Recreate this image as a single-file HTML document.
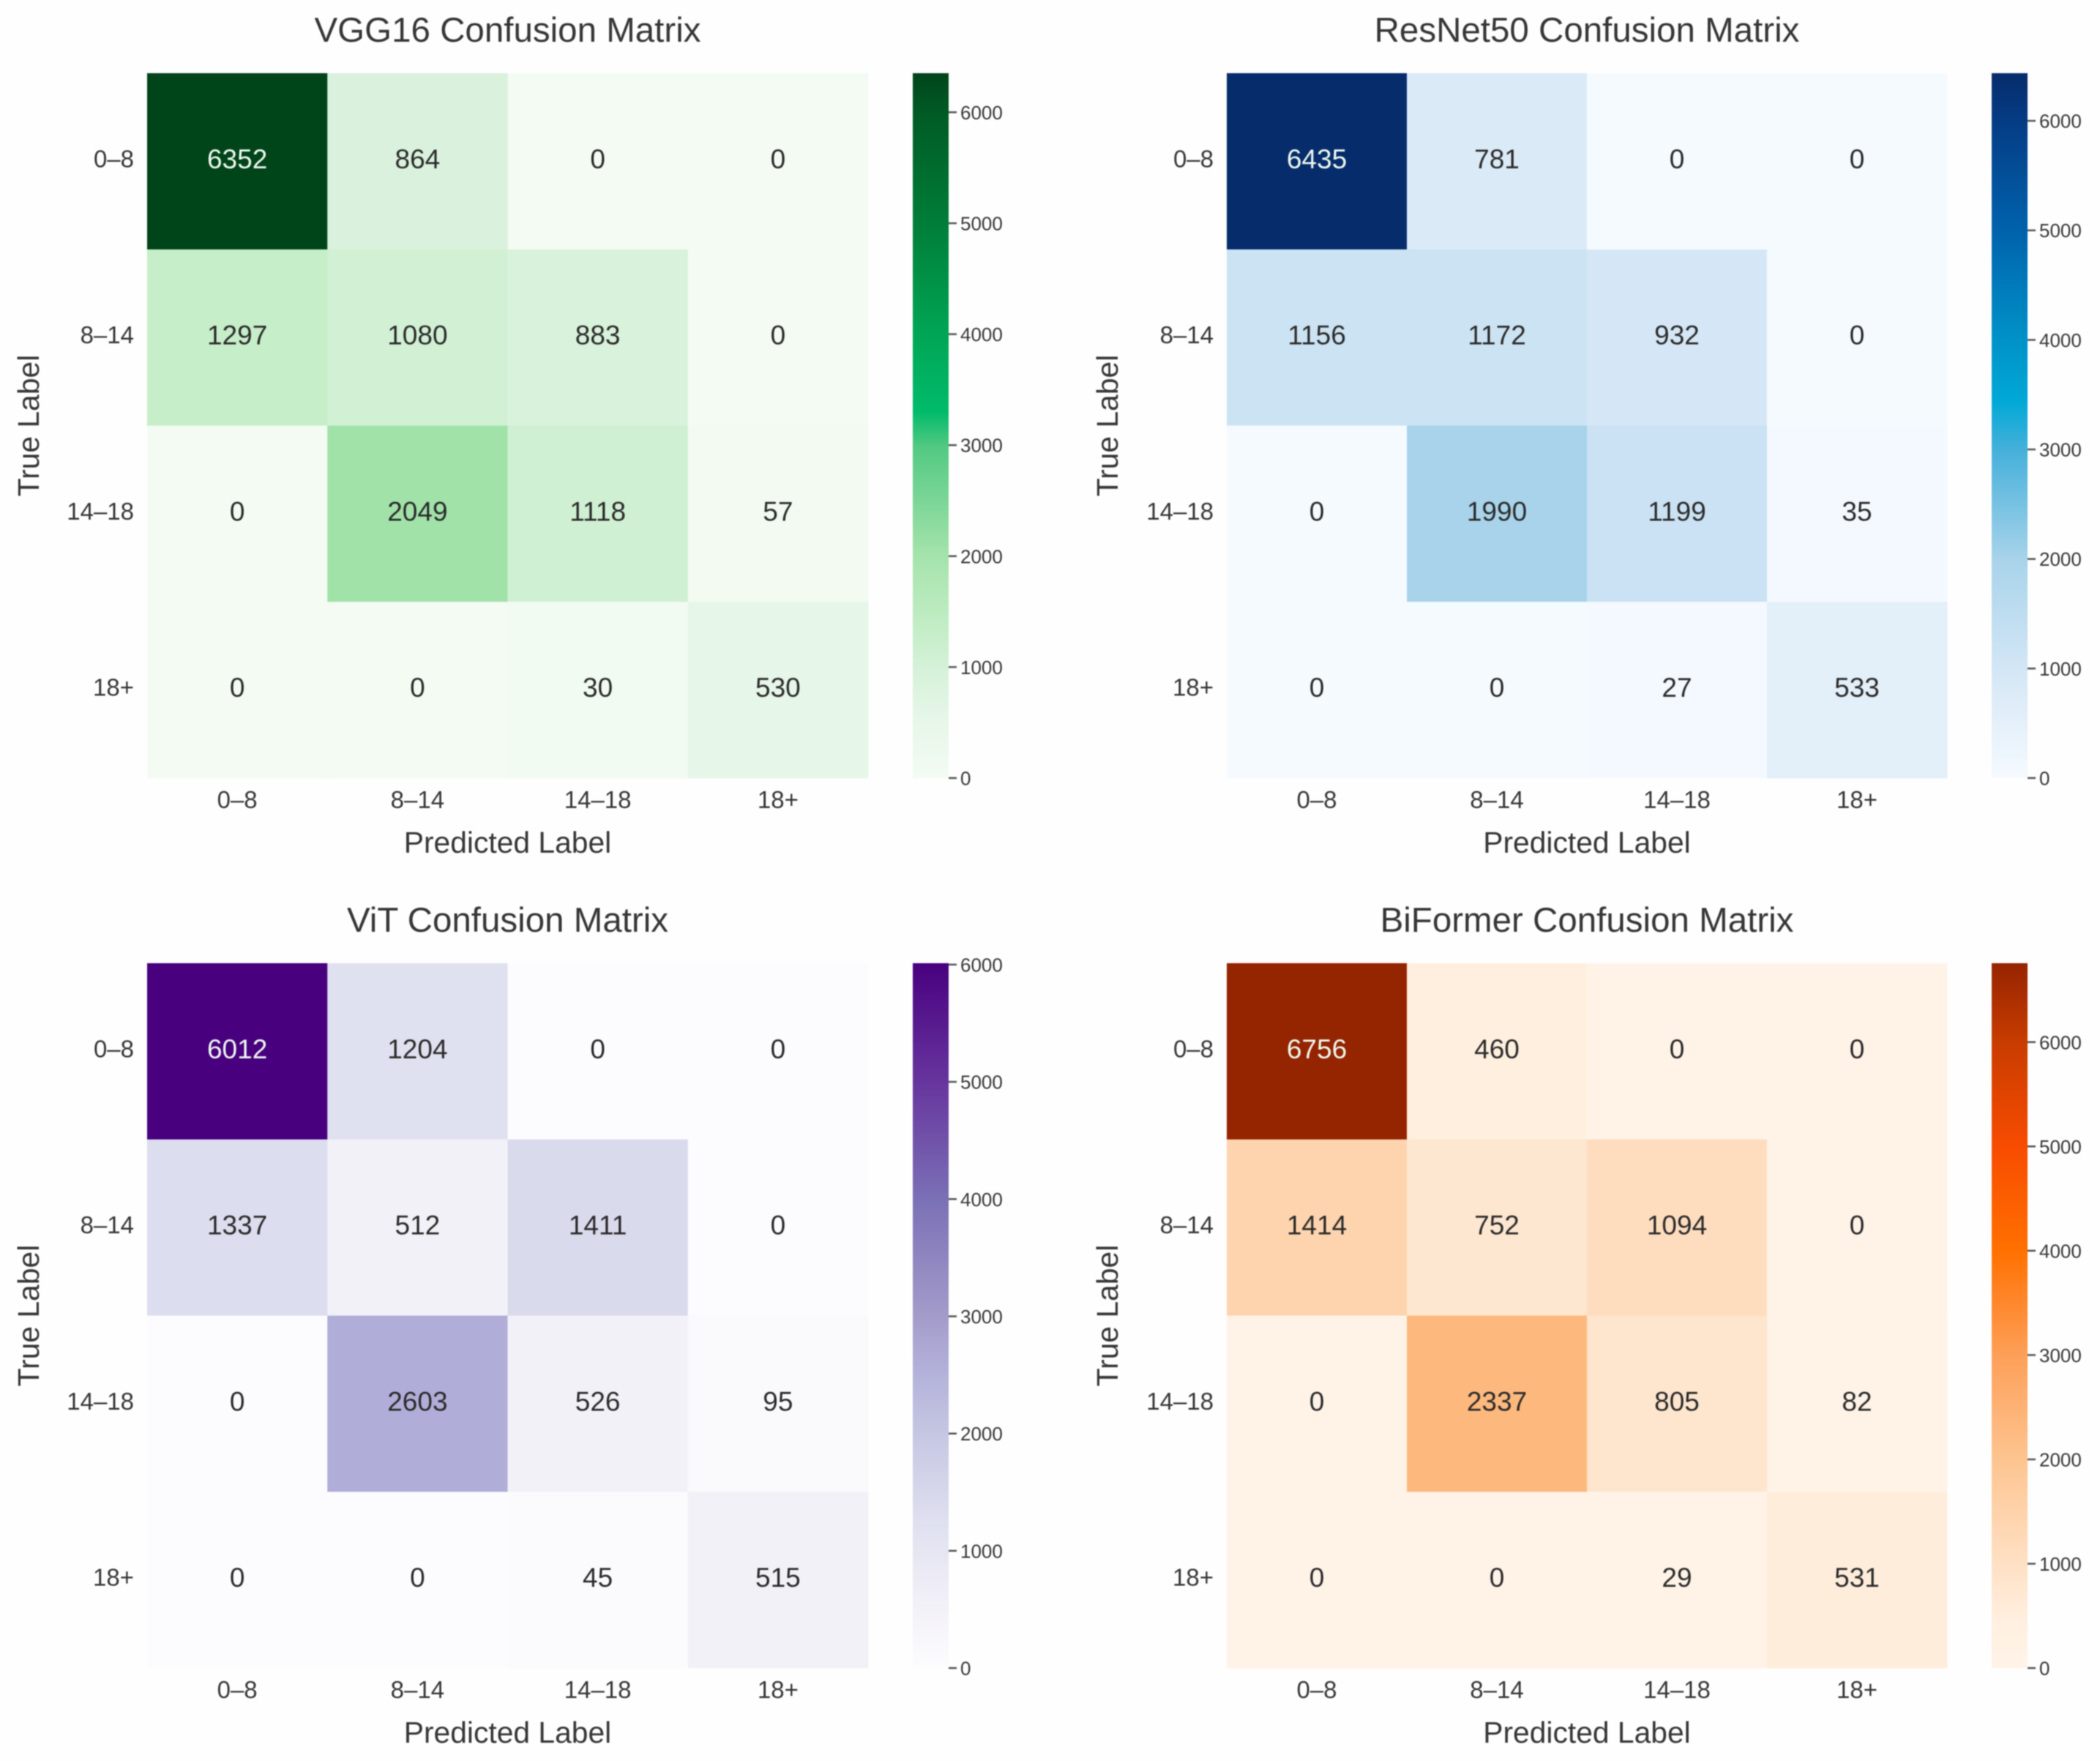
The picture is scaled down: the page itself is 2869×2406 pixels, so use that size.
<!DOCTYPE html>
<html lang="en">
<head>
<meta charset="utf-8">
<title>Confusion Matrices</title>
<style>
html,body{margin:0;padding:0;background:#fefefe;width:2869px;height:2406px;overflow:hidden}
svg{display:block;filter:blur(0.7px)}
text{font-family:"Liberation Sans",Arial,sans-serif;fill:#363636}
</style>
</head>
<body>
<svg id="fig" xmlns="http://www.w3.org/2000/svg" width="2869" height="2406" viewBox="0 0 2869 2406"></svg>
<script>
const categories = ['0–8', '8–14', '14–18', '18+'];
const vgg16Values = [[6352, 864, 0, 0], [1297, 1080, 883, 0], [0, 2049, 1118, 57], [0, 0, 30, 530]];
const resnet50Values = [[6435, 781, 0, 0], [1156, 1172, 932, 0], [0, 1990, 1199, 35], [0, 0, 27, 533]];
const vitValues = [[6012, 1204, 0, 0], [1337, 512, 1411, 0], [0, 2603, 526, 95], [0, 0, 45, 515]];
const biformerValues = [[6756, 460, 0, 0], [1414, 752, 1094, 0], [0, 2337, 805, 82], [0, 0, 29, 531]];
const colorbarTicks = [0, 1000, 2000, 3000, 4000, 5000, 6000];
const greensMap = [[0, '#f3fbf3'], [.085, '#e6f6e8'], [.157, '#d5f1d8'], [.2, '#c7eeca'], [.315, '#a5e3ab'], [.47, '#52c982'], [.52, '#00bb6b'], [.63, '#00a555'], [.787, '#007d38'], [.945, '#005a24'], [1, '#00441a']];
const bluesMap = [[0, '#f5faff'], [.083, '#e3eff9'], [.155, '#d3e6f5'], [.31, '#a8d3ea'], [.466, '#45b0da'], [.535, '#00a8d6'], [.62, '#0092c8'], [.777, '#0062ac'], [.932, '#043c84'], [1, '#062c6b']];
const purplesMap = [[0, '#fcfcfe'], [.085, '#f3f1f8'], [.2, '#e0e1f0'], [.235, '#dadaed'], [.333, '#c5c6e2'], [.433, '#b0aed8'], [.5, '#a39bc9'], [.665, '#7a70b5'], [.83, '#67359e'], [1, '#48007f']];
const orangesMap = [[0, '#fff3e8'], [.068, '#ffefdf'], [.148, '#fee0c4'], [.296, '#fdc490'], [.444, '#fd9f58'], [.592, '#ff7000'], [.74, '#f74c00'], [.888, '#c83c00'], [1, '#952400']];

const NS = 'http://www.w3.org/2000/svg';
const fig = document.getElementById('fig');

function hexToRgb(h) {
  return [parseInt(h.slice(1, 3), 16), parseInt(h.slice(3, 5), 16), parseInt(h.slice(5, 7), 16)];
}
function colorAt(map, t) {
  t = Math.max(0, Math.min(1, t));
  for (let i = 1; i < map.length; i++) {
    if (t <= map[i][0]) {
      const a = map[i - 1], b = map[i];
      const f = (t - a[0]) / (b[0] - a[0]);
      const ca = hexToRgb(a[1]), cb = hexToRgb(b[1]);
      return 'rgb(' + ca.map((v, k) => Math.round(v + (cb[k] - v) * f)).join(',') + ')';
    }
  }
  return map[map.length - 1][1];
}
function make(tag, parent, props, content) {
  const el = document.createElementNS(NS, tag);
  for (const k in props) el.setAttribute(k, props[k]);
  if (content !== undefined) el.textContent = content;
  parent.appendChild(el);
  return el;
}
function slug(s) {
  return s.toLowerCase().replace(/[^a-z0-9]+/g, '-');
}

function drawPanel(id, title, values, map, ox, oy) {
  const plotShift = ox ? 1 : 0;
  const left = 201 + ox + plotShift, top = 100 + oy, width = 985 - plotShift, height = 963;
  const cellW = width / categories.length, cellH = height / categories.length;
  const cbLeft = 1247 + ox, cbWidth = 49;
  const vmax = Math.max(...values.flat());
  const xScale = i => left + cellW * i;
  const yScale = i => top + cellH * i;
  const cbScale = v => top + height - (v / vmax) * height;

  const g = make('g', fig, {});
  
  

  const titleEl = make('text', g, {x: left + width / 2, y: top - 43, 'font-size': 47.5, 'text-anchor': 'middle'}, title);
  
  

  values.forEach((row, r) => row.forEach((v, c) => {
    const rect = make('rect', g, {x: xScale(c), y: yScale(r), width: cellW + .4, height: cellH + .4, fill: colorAt(map, v / vmax)});
    
    
  }));
  values.forEach((row, r) => row.forEach((v, c) => {
    const t = make('text', g, {x: xScale(c) + cellW / 2, y: yScale(r) + cellH / 2 + 9.5, 'font-size': 37, 'text-anchor': 'middle'}, String(v));
    t.style.fill = v / vmax > 0.6 ? '#eef8ef' : '#2b2b2b';
    
    
  }));

  categories.forEach((cat, i) => {
    const xt = make('text', g, {x: xScale(i) + cellW / 2, y: top + height + 41, 'font-size': 33, 'text-anchor': 'middle'}, cat);
    
    
    const yt = make('text', g, {x: left - 18, y: yScale(i) + cellH / 2 + 8, 'font-size': 33, 'text-anchor': 'end'}, cat);
    
    
  });

  const xl = make('text', g, {x: left + width / 2, y: top + height + 102, 'font-size': 40.8, 'text-anchor': 'middle'}, 'Predicted Label');
  
  
  const yx = 53 + ox, yy = top + height / 2;
  const yl = make('text', g, {x: yx, y: yy, 'font-size': 40.8, 'text-anchor': 'middle', transform: 'rotate(-90 ' + yx + ' ' + yy + ')'}, 'True Label');
  
  

  const defs = make('defs', g, {});
  const grad = make('linearGradient', defs, {id: 'grad-' + id, x1: 0, y1: 1, x2: 0, y2: 0});
  map.forEach(s => make('stop', grad, {offset: s[0], 'stop-color': s[1]}));
  const bar = make('rect', g, {x: cbLeft, y: top, width: cbWidth, height: height, fill: 'url(#grad-' + id + ')'});
  
  

  colorbarTicks.filter(v => v <= vmax).forEach(v => {
    const y = cbScale(v);
    const tick = make('rect', g, {x: cbLeft + cbWidth, y: y - 1.25, width: 11, height: 2.5, fill: '#555'});
    
    
    const lab = make('text', g, {x: cbLeft + cbWidth + 16, y: y + 9.5, 'font-size': 26}, String(v));
    
    
  });
}

drawPanel('vgg', 'VGG16 Confusion Matrix', vgg16Values, greensMap, 0, 0);
drawPanel('resnet', 'ResNet50 Confusion Matrix', resnet50Values, bluesMap, 1474, 0);
drawPanel('vit', 'ViT Confusion Matrix', vitValues, purplesMap, 0, 1216);
drawPanel('biformer', 'BiFormer Confusion Matrix', biformerValues, orangesMap, 1474, 1216);
</script>
</body>
</html>
